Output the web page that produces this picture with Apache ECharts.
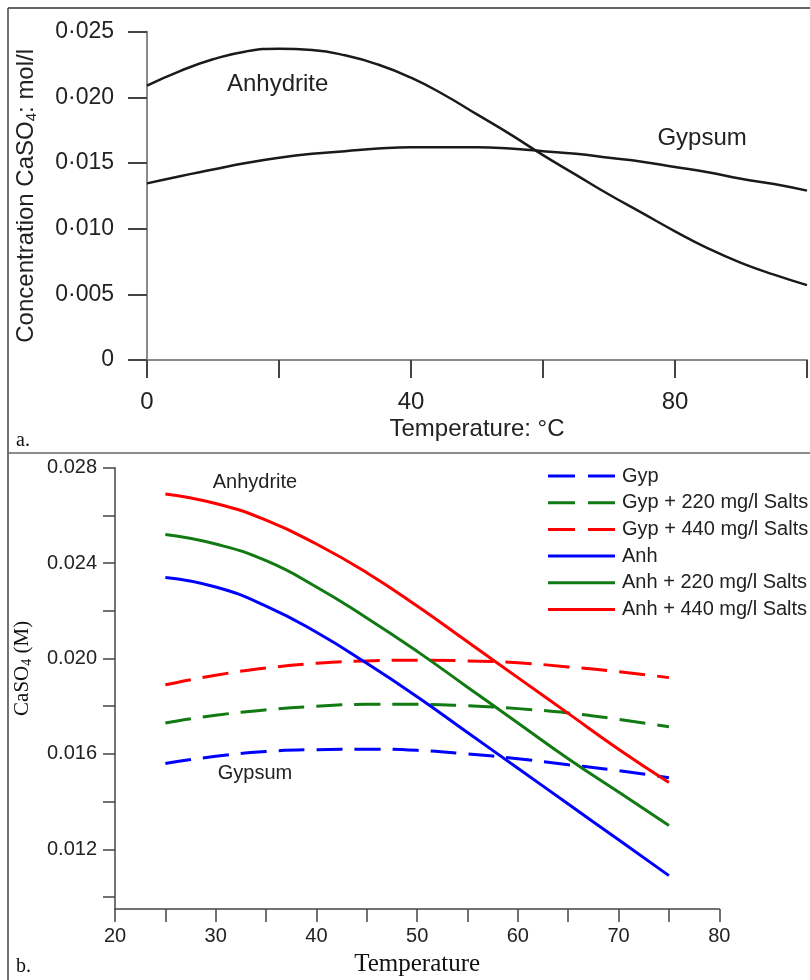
<!DOCTYPE html>
<html>
<head>
<meta charset="utf-8">
<script src="https://cdn.jsdelivr.net/npm/echarts@6/dist/echarts.min.js"></script>
<style>
  html, body { margin: 0; padding: 0; background: #fff; }
  #chart { width: 810px; height: 980px; }
</style>
</head>
<body>
<div id="chart"></div>
<script>
// Panel a: CaSO4 solubility in pure water, 0–100 °C
const topTemps = [0, 5, 10, 15, 20, 25, 30, 35, 40, 45, 50, 55, 60, 65, 70, 75, 80, 85, 90, 95, 100];
const topAnhydrite = [0.0209, 0.0220, 0.0229, 0.0235, 0.0237, 0.0236, 0.0232, 0.0225, 0.0215, 0.0202, 0.0187,
  0.0172, 0.0156, 0.0141, 0.0126, 0.0112, 0.0098, 0.0085, 0.0074, 0.0065, 0.0057];
const topGypsum = [0.01345, 0.0140, 0.0145, 0.0150, 0.0154, 0.0157, 0.0159, 0.0161, 0.0162, 0.0162, 0.0162,
  0.0161, 0.0159, 0.0157, 0.0154, 0.0151, 0.0147, 0.0143, 0.0138, 0.0134, 0.0129];
const topXLabels = [0, 40, 80];
const topYTicks = [0, 0.005, 0.010, 0.015, 0.020, 0.025];

// Panel b: solubility with added salts, 25–75 °C
const botTemps = [25, 30, 35, 40, 45, 50, 55, 60, 65, 70, 75];
const gyp    = [0.0156, 0.0159, 0.0161, 0.01618, 0.0162, 0.01615, 0.0160, 0.0158, 0.01555, 0.0153, 0.0150];
const gyp220 = [0.0173, 0.01762, 0.01785, 0.0180, 0.01808, 0.01808, 0.01802, 0.0179, 0.01772, 0.01745, 0.01714];
const gyp440 = [0.0189, 0.0193, 0.0196, 0.0198, 0.0199, 0.01993, 0.0199, 0.01982, 0.01965, 0.01945, 0.0192];
const anh    = [0.0234, 0.0230, 0.0222, 0.0211, 0.0198, 0.0184, 0.0169, 0.0154, 0.0139, 0.0124, 0.0109];
const anh220 = [0.0252, 0.0248, 0.0241, 0.0230, 0.0217, 0.0203, 0.0188, 0.0173, 0.0158, 0.0144, 0.0130];
const anh440 = [0.0269, 0.0265, 0.0258, 0.0248, 0.0236, 0.0222, 0.0207, 0.0192, 0.0177, 0.0162, 0.0148];
const botXLabels = [20, 30, 40, 50, 60, 70, 80];
const botYLabels = [0.012, 0.016, 0.020, 0.024, 0.028];
const botYTicks = [0.010, 0.012, 0.014, 0.016, 0.018, 0.020, 0.022, 0.024, 0.026, 0.028];

const names = ['Gyp', 'Gyp + 220 mg/l Salts', 'Gyp + 440 mg/l Salts', 'Anh', 'Anh + 220 mg/l Salts', 'Anh + 440 mg/l Salts'];

const zip = (xs, ys) => xs.map((x, i) => [x, ys[i]]);

const BLUE = '#0000ff', GREEN = '#127a12', RED = '#ff0000';
const DASH = [26, 12];
// legend swatches: two dashes, or one solid bar
const DASH_ICON = 'path://M0,0H27V3H0Z M40,0H67V3H40Z';
const SOLID_ICON = 'path://M0,0H67V3H0Z';

function curve(name, values, color, dashed) {
  return {
    name: name,
    type: 'line',
    xAxisIndex: 1,
    yAxisIndex: 1,
    data: zip(botTemps, values),
    smooth: 0.5,
    showSymbol: false,
    symbol: 'none',
    lineStyle: { color: color, width: 3, type: dashed ? DASH : 'solid' },
    itemStyle: { color: color },
    z: dashed ? 3 : 4
  };
}

const sans = 'Liberation Sans, Arial, sans-serif';
const serif = 'Liberation Serif, Times New Roman, serif';

function textMark(label, coord, size) {
  return {
    symbol: 'circle',
    symbolSize: 0,
    silent: true,
    label: {
      show: true, position: 'inside', formatter: label,
      color: '#222', fontFamily: sans, fontSize: size
    },
    data: [{ coord: coord }]
  };
}

const chart = echarts.init(document.getElementById('chart'), null, { renderer: 'canvas' });

chart.setOption({
  animation: false,
  backgroundColor: '#fff',
  grid: [
    { left: 147, top: 31.7, width: 660, height: 328.3 },
    { left: 115, top: 467.7, width: 604.3, height: 441.3 }
  ],
  xAxis: [
    {
      gridIndex: 0, type: 'value', min: 0, max: 100, interval: 20,
      name: 'Temperature: °C', nameLocation: 'middle', nameGap: 57,
      nameTextStyle: { color: '#222', fontFamily: sans, fontSize: 24 },
      axisLine: { lineStyle: { color: '#8a8a8a', width: 2 } },
      axisTick: { length: 18, lineStyle: { color: '#444', width: 2 } },
      axisLabel: { customValues: topXLabels, margin: 30, color: '#222', fontFamily: sans, fontSize: 24 },
      splitLine: { show: false }
    },
    {
      gridIndex: 1, type: 'value', min: 20, max: 80, interval: 5,
      name: 'Temperature', nameLocation: 'middle', nameGap: 43,
      nameTextStyle: { color: '#111', fontFamily: serif, fontSize: 25 },
      axisLine: { lineStyle: { color: '#444', width: 1.5 } },
      axisTick: { length: 13, lineStyle: { color: '#444', width: 1.5 } },
      axisLabel: { customValues: botXLabels, margin: 17, color: '#222', fontFamily: sans, fontSize: 20 },
      splitLine: { show: false }
    }
  ],
  yAxis: [
    {
      gridIndex: 0, type: 'value', min: 0, max: 0.025, interval: 0.005,
      name: 'Concentration CaSO{sub|4}: mol/l', nameLocation: 'middle', nameGap: 108, nameRotate: 90,
      nameTextStyle: {
        color: '#222', fontFamily: sans, fontSize: 24,
        rich: { sub: { fontFamily: sans, fontSize: 15, color: '#222', verticalAlign: 'bottom', padding: [11, 0, 0, 0] } }
      },
      axisLine: { show: true, lineStyle: { color: '#8a8a8a', width: 2 } },
      axisTick: { show: true, length: 19, customValues: topYTicks, lineStyle: { color: '#444', width: 2 } },
      axisLabel: {
        margin: 33, color: '#222', fontFamily: sans, fontSize: 23,
        formatter: v => (v === 0 ? '0' : v.toFixed(3).replace('.', '·'))
      },
      splitLine: { show: false }
    },
    {
      gridIndex: 1, type: 'value', min: 0.0095, max: 0.028,
      name: 'CaSO{sub|4} (M)', nameLocation: 'middle', nameGap: 81, nameRotate: 90,
      nameTextStyle: {
        color: '#111', fontFamily: serif, fontSize: 21, padding: [0, 0, 0, 40],
        rich: { sub: { fontFamily: serif, fontSize: 14, color: '#111', verticalAlign: 'bottom', padding: [9, 0, 0, 0] } }
      },
      axisLine: { show: true, lineStyle: { color: '#444', width: 1.5 } },
      axisTick: { show: true, length: 12, customValues: botYTicks, lineStyle: { color: '#444', width: 1.5 } },
      axisLabel: {
        customValues: botYLabels, margin: 18, color: '#222', fontFamily: sans, fontSize: 20,
        formatter: v => v.toFixed(3)
      },
      splitLine: { show: false }
    }
  ],
  legend: {
    data: names.map((n, i) => ({ name: n, icon: i < 3 ? DASH_ICON : SOLID_ICON })),
    orient: 'vertical',
    left: 543, top: 461,
    itemWidth: 67, itemHeight: 4, itemGap: 6.7,
    textStyle: { color: '#222', fontFamily: sans, fontSize: 20, lineHeight: 20, padding: [0, 0, 0, 2] },
    selectedMode: false
  },
  series: [
    {
      name: 'Anhydrite (a)', type: 'line', xAxisIndex: 0, yAxisIndex: 0,
      data: zip(topTemps, topAnhydrite), smooth: 0.5, showSymbol: false, symbol: 'none',
      lineStyle: { color: '#1a1a1a', width: 2.5 },
      markPoint: textMark('Anhydrite', [19.8, 0.0210], 24)
    },
    {
      name: 'Gypsum (a)', type: 'line', xAxisIndex: 0, yAxisIndex: 0,
      data: zip(topTemps, topGypsum), smooth: 0.5, showSymbol: false, symbol: 'none',
      lineStyle: { color: '#1a1a1a', width: 2.5 },
      markPoint: textMark('Gypsum', [84.1, 0.0169], 24)
    },
    Object.assign(curve(names[0], gyp, BLUE, true), { markPoint: textMark('Gypsum', [33.9, 0.0152], 20) }),
    curve(names[1], gyp220, GREEN, true),
    curve(names[2], gyp440, RED, true),
    curve(names[3], anh, BLUE, false),
    curve(names[4], anh220, GREEN, false),
    Object.assign(curve(names[5], anh440, RED, false), { markPoint: textMark('Anhydrite', [33.9, 0.02736], 20) })
  ],
  graphic: [
    // figure frame and panel divider
    { type: 'line', shape: { x1: 8, y1: 8, x2: 810, y2: 8 }, style: { stroke: '#333', lineWidth: 1.5 } },
    { type: 'line', shape: { x1: 8, y1: 8, x2: 8, y2: 980 }, style: { stroke: '#444', lineWidth: 1.5 } },
    { type: 'line', shape: { x1: 8, y1: 453, x2: 810, y2: 453 }, style: { stroke: '#666', lineWidth: 1.5 } },
    // panel letters
    { type: 'text', left: 16, top: 431, style: { text: 'a.', font: '20px ' + serif, fill: '#111' } },
    { type: 'text', left: 16, top: 957, style: { text: 'b.', font: '20px ' + serif, fill: '#111' } }
  ]
});
</script>
</body>
</html>
